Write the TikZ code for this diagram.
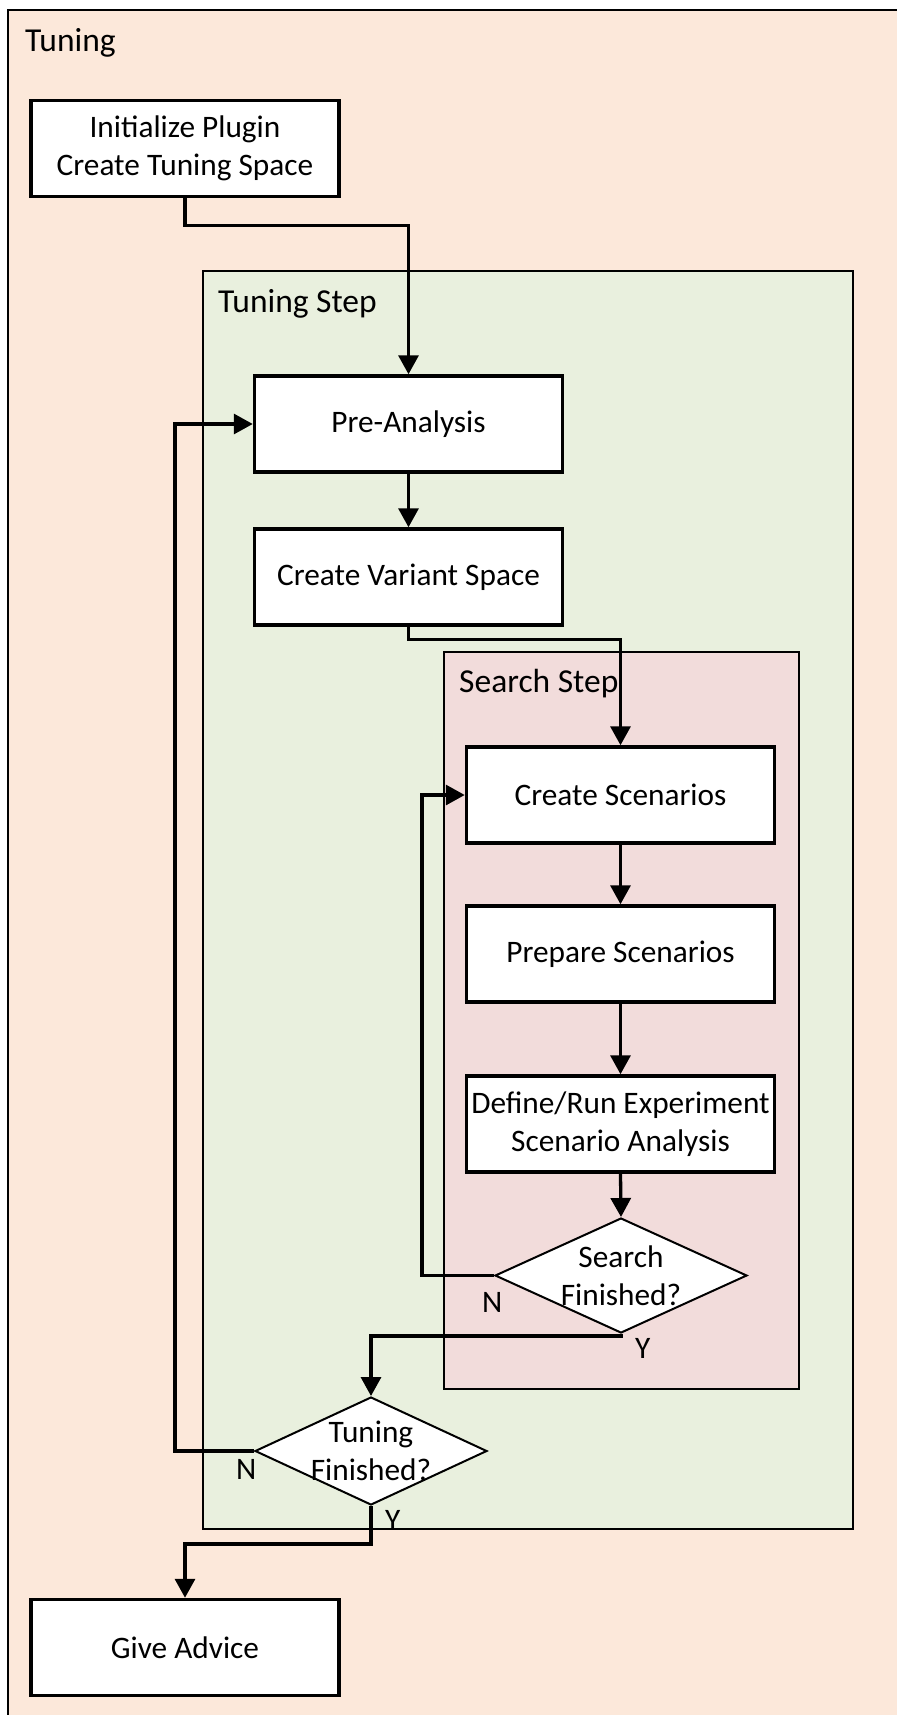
\documentclass[tikz,border=0pt]{standalone}
\usepackage{fontspec}
\setmainfont{Carlito}
\usetikzlibrary{arrows.meta,shapes.geometric}
\definecolor{tuningfill}{HTML}{FCE8DA}
\definecolor{stepfill}{HTML}{E9F0DE}
\definecolor{searchfill}{HTML}{F2DCDB}
\begin{document}
\begin{tikzpicture}[x=1pt,y=-1pt,
  font=\fontsize{31.3}{37.5}\selectfont,
  stepbox/.style={draw, line width=3.5pt, fill=white, minimum width=308pt,
    minimum height=96pt, inner sep=0pt, align=center},
  decision/.style={diamond, draw, line width=2pt, fill=white, inner sep=0pt},
  flow/.style={line width=3.3pt, -{Triangle[width=20pt,length=19pt]}},
  group/.style={draw, line width=2pt, anchor=north west, inner sep=0pt},
  grouptitle/.style={anchor=base west, inner sep=0pt, font=\fontsize{33.5}{40}\selectfont},
  answer/.style={anchor=base west, inner sep=0pt}]

% canvas
\useasboundingbox[fill=white] (0,0) rectangle (897,1715);

% outer "Tuning" region (runs off the right and bottom edges)
\fill[tuningfill] (8,10) rectangle (897,1715);
\draw[line width=2pt] (8,1715) -- (8,10) -- (897,10);
\node[grouptitle] (tuningtitle) at (25,52) {Tuning};

% nested regions
\node[group, fill=stepfill, minimum width=650pt, minimum height=1258pt] (tstep) at (202,270) {};
\node[grouptitle] (tsteptitle) at (218,312) {Tuning Step};
\node[group, fill=searchfill, minimum width=355pt, minimum height=737pt] (sstep) at (443,651) {};
\node[grouptitle] (ssteptitle) at (459,692) {Search Step};

% process steps
\node[stepbox] (init) at (185,148.5) {Initialize Plugin\\Create Tuning Space};
\node[stepbox] (pre)  at (408.5,424) {Pre-Analysis};
\node[stepbox] (cvs)  at (408.5,577) {Create Variant Space};
\node[stepbox] (cs)   at (620.5,795) {Create Scenarios};
\node[stepbox] (ps)   at (620.5,954) {Prepare Scenarios};
\node[stepbox] (def)  at (620.5,1124) {Define/Run Experiment\\Scenario Analysis};
\node[stepbox] (ga)   at (185,1647.5) {Give Advice};

% decisions
\node[decision, minimum width=252pt, minimum height=115pt] (sf) at (621,1275.5) {};
\node[align=center, inner sep=0pt] (sftext) at (sf.center) {Search\\Finished?};
\node[decision, minimum width=232pt, minimum height=108pt] (tf) at (371,1451) {};
\node[align=center, inner sep=0pt] (tftext) at (tf.center) {Tuning\\Finished?};

% flow
\draw[flow] (init.south) -- ++(0,27.5) -| (pre.north);
\draw[flow] (pre.south) -- (cvs.north);
\draw[flow] (cvs.south) -- ++(0,12.5) -| (cs.north);
\draw[flow] (cs.south) -- (ps.north);
\draw[flow] (ps.south) -- (def.north);
\draw[flow] (def.south) -- (sf.north);
\draw[flow] (sf.west) -- ++(-72,0) |- (cs.west);
\draw[flow] (sf.south) -- ++(0,2) -| (tf.north);
\draw[flow] (tf.west) -- ++(-79,0) |- (pre.west);
\draw[flow] (tf.south) -- ++(0,38) -| (ga.north);

% branch labels
\node[answer] (sfno)  at (482,1312) {N};
\node[answer] (sfyes) at (635,1358) {Y};
\node[answer] (tfno)  at (236,1479) {N};
\node[answer] (tfyes) at (385,1530) {Y};
\end{tikzpicture}
\end{document}
